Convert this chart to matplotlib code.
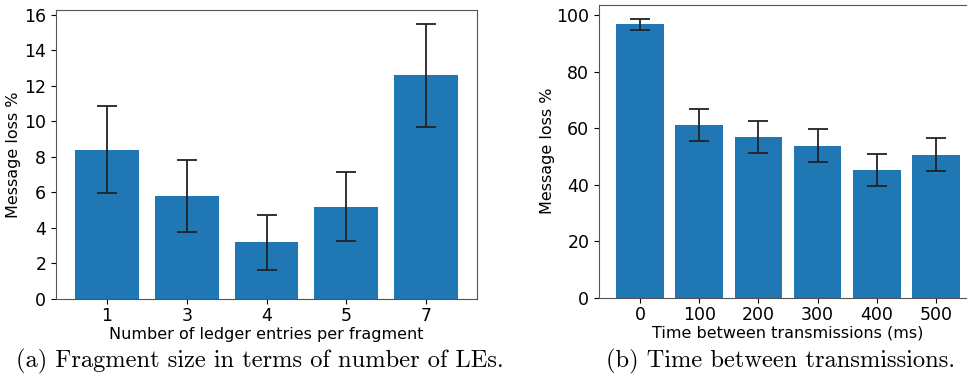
import matplotlib
matplotlib.use("Agg")
import matplotlib.pyplot as plt
from matplotlib.ticker import MultipleLocator

# (a) fragment size
frag_labels = ["1", "3", "4", "5", "7"]
frag_loss = [8.4, 5.8, 3.2, 5.2, 12.6]
frag_err = [2.45, 2.05, 1.55, 1.93, 2.9]

# (b) time between transmissions
time_labels = ["0", "100", "200", "300", "400", "500"]
time_loss = [96.8, 61.1, 56.9, 53.8, 45.2, 50.7]
time_err = [2.0, 5.55, 5.55, 5.8, 5.6, 5.85]

W, H = 967, 379
fig = plt.figure(figsize=(W / 100, H / 100), dpi=100)

ax1 = fig.add_axes([56 / W, (H - 299) / H, 421 / W, 289 / H])
ax2 = fig.add_axes([599 / W, (H - 297.7) / H, 378 / W, 293 / H])

fs = 11.5
tfs = 12.5
bar_kw = dict(color="#1f77b4", width=0.8, capsize=7.5,
              error_kw=dict(ecolor="#222222", elinewidth=1.3, capthick=1.3))

ax1.bar(range(len(frag_labels)), frag_loss, yerr=frag_err, **bar_kw)
ax1.set_xticks(range(len(frag_labels)))
ax1.set_xticklabels(frag_labels)
ax1.yaxis.set_major_locator(MultipleLocator(2))
ax1.set_xlabel("Number of ledger entries per fragment", fontsize=fs, labelpad=1)
ax1.set_ylabel("Message loss %", fontsize=fs, labelpad=2)

ax2.bar(range(len(time_labels)), time_loss, yerr=time_err, **bar_kw)
ax2.set_xticks(range(len(time_labels)))
ax2.set_xticklabels(time_labels)
ax2.yaxis.set_major_locator(MultipleLocator(20))
ax2.set_xlabel("Time between transmissions (ms)", fontsize=fs, labelpad=1)
ax2.set_ylabel("Message loss %", fontsize=fs, labelpad=1)

for ax in (ax1, ax2):
    ax.tick_params(labelsize=tfs)
    ax.tick_params(axis="x", pad=2.5)
    for s in ax.spines.values():
        s.set_color("#555555")

fig.text(16 / W, 1 - 367 / H, "(a) Fragment size in terms of number of LEs.",
         fontfamily="cmr10", fontsize=17.6, ha="left", va="baseline")
fig.text(606 / W, 1 - 367 / H, "(b) Time between transmissions.",
         fontfamily="cmr10", fontsize=17.6, ha="left", va="baseline")

fig.savefig("out.png", dpi=100)
